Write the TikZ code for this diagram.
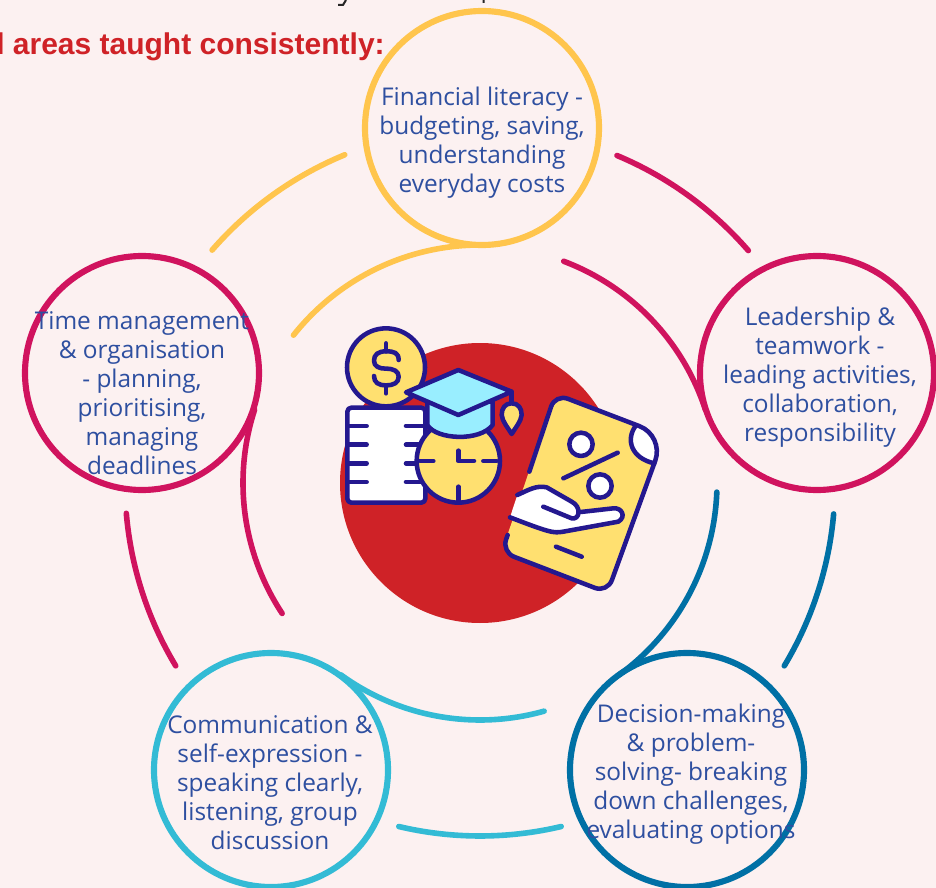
\documentclass[tikz,border=0pt]{standalone}
\usepackage{fontspec}
\setmainfont{Open Sans}
\newfontfamily\headfont{Liberation Sans}
\definecolor{bgc}{HTML}{FCF1F1}
\definecolor{ryel}{HTML}{FFC54D}
\definecolor{rcri}{HTML}{D0135E}
\definecolor{rblu}{HTML}{0070A5}
\definecolor{rcya}{HTML}{33BBD5}
\definecolor{rred}{HTML}{CF2227}
\definecolor{navy}{HTML}{24188F}
\definecolor{txtc}{HTML}{2E4FA0}
\definecolor{goldf}{HTML}{FFE070}
\definecolor{capf}{HTML}{99EEFF}
\tikzset{
  ring/.style={circle,draw=#1,line width=4.6pt,minimum size=175.5pt,inner sep=0pt,fill=none},
  arcline/.style={draw=#1,line width=4.2pt,line cap=round},
  lbl/.style={text=txtc,align=center,font=\fontsize{18.3pt}{21.75pt}\selectfont,inner sep=0pt},
  ico/.style={draw=navy,line width=3.4pt,line cap=round,line join=round},
}
\begin{document}
\begin{tikzpicture}[x=0.75pt,y=-0.75pt]
\useasboundingbox (0,0) rectangle (936,888);
\fill[bgc] (0,0) rectangle (936,888);
\begin{scope}
\clip (0,0) rectangle (936,888);
\coordinate (c) at (480,483);
% descenders of the line cut off at the top edge
\draw[line width=1.5pt,color=black!85] (338,5) -- (343,5) -- (346,0) (483.5,0) -- (483.5,3);
% heading
\node[anchor=base west,text=rred,inner sep=0pt,font=\headfont\bfseries\fontsize{22.5pt}{26pt}\selectfont] (head) at (-4,55) {l areas taught consistently:};
% red disc
\node[circle,fill=rred,minimum size=210pt,inner sep=0pt] (disc) at (c) {};
% inner arcs
\draw[arcline=ryel] ([shift={(c)}]-141.6:238) arc[start angle=-141.6,end angle=-88,radius=238];
\draw[arcline=rcri] ([shift={(c)}]-69.3:237) arc[start angle=-69.3,end angle=-18,radius=237];
\draw[arcline=rblu] ([shift={(c)}]2.2:237) arc[start angle=2.2,end angle=54,radius=237];
\draw[arcline=rcya] ([shift={(c)}]74.3:237) arc[start angle=74.3,end angle=126,radius=237];
\draw[arcline=rcri] ([shift={(c)}]146.6:237) arc[start angle=146.6,end angle=198,radius=237];
% outer arcs
\draw[arcline=ryel] ([shift={(c)}]-112.4:355) arc[start angle=-112.4,end angle=-139,radius=355];
\draw[arcline=rcri] ([shift={(c)}]-67.3:355) arc[start angle=-67.3,end angle=-40.9,radius=355];
\draw[arcline=rblu] ([shift={(c)}]5:355) arc[start angle=5,end angle=31,radius=355];
\draw[arcline=rcya] ([shift={(c)}]76.7:353) arc[start angle=76.7,end angle=103.3,radius=353];
\draw[arcline=rcri] ([shift={(c)}]149:355) arc[start angle=149,end angle=175.1,radius=355];
% rings
\node[ring=ryel] (top) at (482,128) {};
\node[ring=rcri] (right) at (817,373) {};
\node[ring=rcri] (left) at (142,373) {};
\node[ring=rcya] (bl) at (271,770) {};
\node[ring=rblu] (br) at (687,770) {};
% labels
\node[lbl] (ttop) at (482,143) {Financial literacy -\\budgeting, saving,\\understanding\\everyday costs};
\node[lbl] (tright) at (820,377) {Leadership \&\\teamwork -\\leading activities,\\collaboration,\\responsibility};
\node[lbl] (tleft) at (142,393) {Time management\\\& organisation\\- planning,\\prioritising,\\managing\\deadlines};
\node[lbl] (tbl) at (270,783) {Communication \&\\self-expression -\\speaking clearly,\\listening, group\\discussion};
\node[lbl] (tbr) at (691,774) {Decision-making\\\& problem-\\solving- breaking\\down challenges,\\evaluating options};
% icon (coordinates of a 3x crop)
\begin{scope}[shift={(320,310)},x=0.25pt,y=-0.25pt]
  % coin
  \draw[ico,fill=goldf] (198,172) circle[radius=117];
  \draw[ico] (236,150) .. controls (236,128) and (222,124) .. (198,124) .. controls (174,124) and (162,134) .. (162,152) .. controls (162,170) and (178,176) .. (198,176) .. controls (222,176) and (236,184) .. (236,200) .. controls (236,218) and (222,226) .. (198,226) .. controls (176,226) and (162,218) .. (162,198);
  \draw[ico] (198,100) -- (198,124) (198,226) -- (198,250);
  % notepad
  \draw[ico,fill=white,rounded corners=3pt] (82,293) rectangle (316,578);
  \foreach \yy in {348,404,460,516} {
    \draw[ico] (85,\yy) -- (140,\yy) (258,\yy) -- (312,\yy);
  }
  % clock
  \draw[ico,fill=goldf] (415,453) circle[radius=125];
  \draw[ico] (300,453) -- (340,453) (490,453) -- (530,453) (415,530) -- (415,575);
  \draw[ico] (415,422) -- (415,453) -- (462,453);
  % cap
  \draw[ico,fill=capf] (322,275) -- (322,345) .. controls (350,390) and (480,395) .. (518,345) -- (518,275) -- cycle;
  \draw[ico,fill=capf] (258,247) -- (415,180) -- (575,245) -- (415,315) -- cycle;
  \draw[ico] (575,245) -- (575,280);
  \draw[ico,fill=goldf] (575,280) .. controls (595,280) and (605,295) .. (605,315) .. controls (603,335) and (585,355) .. (575,372) .. controls (565,355) and (547,335) .. (545,315) .. controls (545,295) and (555,280) .. (575,280) -- cycle;
  % tablet body
  \fill[goldf] [rounded corners=10pt] (706,252) [rounded corners=20pt] -- (1033,377) [rounded corners=10pt] -- (862,848) -- (545,726) -- cycle;
  \fill[white] (948,346) .. controls (990,362) and (1018,410) .. (1003,460) .. controls (935,445) and (915,390) .. (948,346) -- cycle;
  \draw[ico] (628,485) [rounded corners=10pt] -- (706,252) [rounded corners=20pt] -- (1033,377) [rounded corners=10pt] -- (862,848) -- (545,726) -- (563,675);
  \draw[ico] (948,346) .. controls (915,390) and (935,445) .. (1003,460);
  % percent
  \draw[ico,fill=white] (783,403) circle[radius=35];
  \draw[ico,fill=white] (840,528) circle[radius=35];
  \draw[ico] (730,505) -- (893,428);
  \draw[ico] (708,710) -- (785,740);
  % hand
  \fill[white] (592,555) .. controls (625,540) and (650,525) .. (680,532) -- (755,575) .. controls (775,590) and (780,600) .. (785,605) -- (880,595) .. controls (905,592) and (920,620) .. (895,635) -- (730,665) .. controls (700,670) and (690,668) .. (570,622) -- cycle;
  \draw[ico] (592,555) .. controls (625,540) and (650,525) .. (680,532) -- (755,575) .. controls (785,590) and (780,630) .. (755,625) -- (670,590);
  \draw[ico] (782,606) -- (880,595) .. controls (905,592) and (920,620) .. (895,635) -- (730,665) .. controls (700,670) and (690,668) .. (570,622);
\end{scope}
\end{scope}
\end{tikzpicture}
\end{document}
